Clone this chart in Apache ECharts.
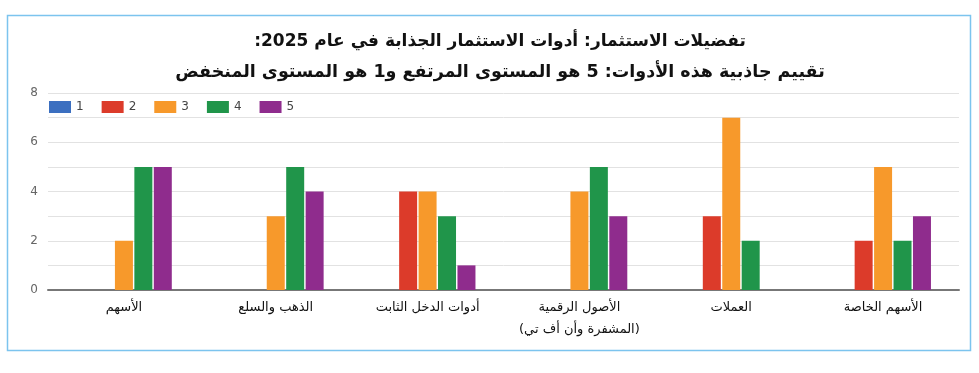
<!DOCTYPE html>
<html><head><meta charset="utf-8">
<script src="https://cdn.jsdelivr.net/npm/echarts@6/dist/echarts.min.js"></script>
<style>html,body{margin:0;padding:0;background:#fff}#c{width:979px;height:373px}</style>
</head><body><div id="c"></div>
<script>
const RLM = '\u200F';
const titleLine1 = 'تفضيلات الاستثمار: أدوات الاستثمار الجذابة في عام 2025:';
const titleLine2 = 'تقييم جاذبية هذه الأدوات: 5 هو المستوى المرتفع و1 هو المستوى المنخفض';
const categories = ['الأسهم', 'الذهب والسلع', 'أدوات الدخل الثابت', 'الأصول الرقمية\n(المشفرة وأن أف تي)', 'العملات', 'الأسهم الخاصة'];
const seriesNames = ['1', '2', '3', '4', '5'];
const s1 = [0, 0, 0, 0, 0, 0];
const s2 = [0, 0, 4, 0, 3, 2];
const s3 = [2, 3, 4, 4, 7, 5];
const s4 = [5, 5, 3, 5, 2, 2];
const s5 = [5, 4, 1, 3, 0, 3];
const yTicks = [0, 2, 4, 6, 8];
const colors = ['#3b6fc0', '#dc3b2a', '#f7992b', '#20954a', '#8f2c8d'];

const data = [s1, s2, s3, s4, s5];
const chart = echarts.init(document.getElementById('c'), null, {renderer: 'canvas'});
chart.setOption({
  animation: false,
  color: colors,
  textStyle: {fontFamily: 'DejaVu Sans'},
  graphic: [{
    type: 'rect', left: 5, top: 13,
    shape: {width: 963, height: 335},
    style: {fill: 'none', stroke: '#7cc4ee', lineWidth: 1.5},
    silent: true
  }],
  title: [
    {text: RLM + titleLine1 + RLM, left: 495, textAlign: 'center', top: 28,
     textStyle: {fontSize: 17, fontWeight: 'bold', color: '#111', fontFamily: 'DejaVu Sans'}},
    {text: RLM + titleLine2 + RLM, left: 495, textAlign: 'center', top: 58,
     textStyle: {fontSize: 17.5, fontWeight: 'bold', color: '#111', fontFamily: 'DejaVu Sans'}}
  ],
  legend: {
    data: seriesNames, left: 44, top: 96, itemWidth: 22, itemHeight: 12, itemGap: 18,
    icon: 'rect', textStyle: {fontSize: 12, color: '#444'}
  },
  grid: {left: 48, right: 20, top: 93, bottom: 83, containLabel: false},
  xAxis: {
    type: 'category', data: categories,
    axisTick: {show: false},
    axisLine: {lineStyle: {color: '#777', width: 2}},
    axisLabel: {fontSize: 13, color: '#111', margin: 7, lineHeight: 22, interval: 0}
  },
  yAxis: {
    type: 'value', min: 0, max: 8, interval: 1,
    axisLabel: {
      color: '#666', fontSize: 12, margin: 10,
      formatter: v => (yTicks.indexOf(v) >= 0 ? String(v) : '')
    },
    splitLine: {lineStyle: {color: '#e2e2e2', width: 1}},
    axisLine: {show: false}, axisTick: {show: false}
  },
  series: seriesNames.map((n, i) => ({
    name: n, type: 'bar', data: data[i], barWidth: 18, barGap: '8%'
  }))
});
</script></body></html>
